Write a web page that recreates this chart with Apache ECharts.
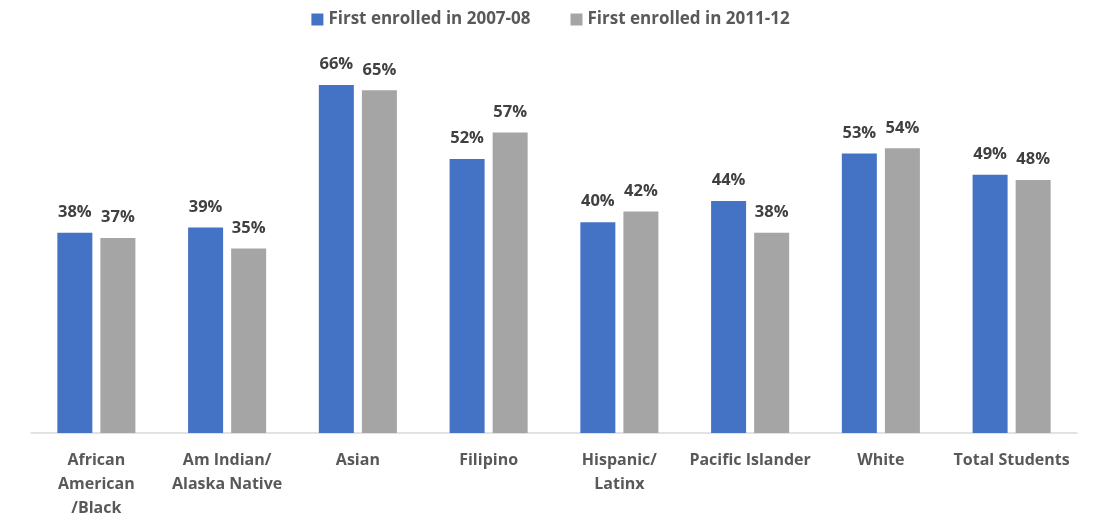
<!DOCTYPE html>
<html>
<head>
<meta charset="utf-8">
<script src="https://cdn.jsdelivr.net/npm/echarts@6/dist/echarts.min.js"></script>
<style>
  html, body { margin: 0; padding: 0; background: #fff; }
  #chart { width: 1101px; height: 519px; }
</style>
</head>
<body>
<div id="chart"></div>
<script>
const categories = [
  'African\nAmerican\n/Black',
  'Am Indian/\nAlaska Native',
  'Asian',
  'Filipino',
  'Hispanic/\nLatinx',
  'Pacific Islander',
  'White',
  'Total Students'
];
const seriesNames = ['First enrolled in 2007-08', 'First enrolled in 2011-12'];
const enrolled0708 = [38, 39, 66, 52, 40, 44, 53, 49];
const enrolled1112 = [37, 35, 65, 57, 42, 38, 54, 48];

const FONT = '"Open Sans", Lato, sans-serif';

const chart = echarts.init(document.getElementById('chart'), null, { renderer: 'canvas' });

function barSeries(name, data, color) {
  return {
    name,
    type: 'bar',
    data,
    barWidth: 35,
    barGap: '23%',
    itemStyle: { color },
    label: {
      show: true,
      position: 'top',
      distance: 12,
      formatter: '{c}%',
      color: '#404040',
      fontFamily: FONT,
      fontWeight: 'bold',
      fontSize: 16.5
    }
  };
}

chart.setOption({
  animation: false,
  legend: {
    top: 6,
    left: 'center',
    itemWidth: 12,
    itemHeight: 12,
    itemGap: 40,
    icon: 'rect',
    textStyle: { color: '#595959', fontFamily: FONT, fontWeight: 'bold', fontSize: 17 },
    data: seriesNames
  },
  grid: { left: 31, right: 24, top: 64, bottom: 86, outerBoundsMode: 'none', containLabel: false },
  xAxis: {
    type: 'category',
    data: categories,
    axisTick: { show: false },
    axisLine: { lineStyle: { color: '#d9d9d9', width: 1.5 } },
    axisLabel: {
      interval: 0,
      margin: 15,
      color: '#595959',
      fontFamily: FONT,
      fontWeight: 'bold',
      fontSize: 16,
      lineHeight: 24
    }
  },
  yAxis: {
    type: 'value',
    min: 0,
    max: 70,
    show: false,
    splitLine: { show: false }
  },
  series: [
    barSeries(seriesNames[0], enrolled0708, '#4472C4'),
    barSeries(seriesNames[1], enrolled1112, '#A5A5A5')
  ]
});
</script>
</body>
</html>
